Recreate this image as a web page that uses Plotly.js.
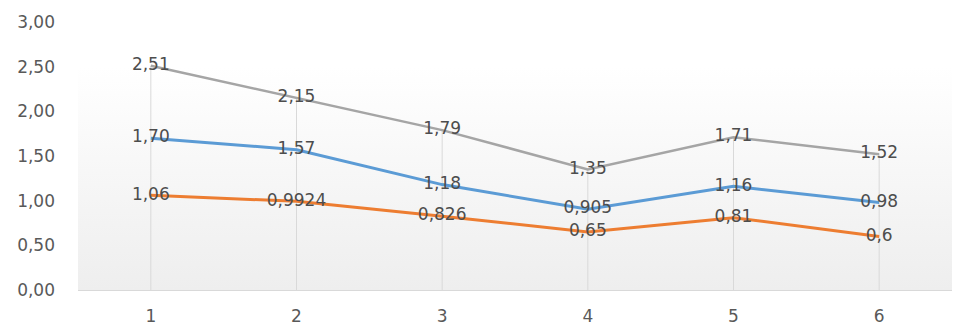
<!DOCTYPE html>
<html>
<head>
<meta charset="utf-8">
<script src="https://cdn.plot.ly/plotly-3.0.1.min.js"></script>
<style>
  html, body { margin: 0; padding: 0; background: #ffffff; }
  #chart { width: 956px; height: 326px; }
</style>
</head>
<body>
<div id="chart"></div>
<script>
// Category labels along the x axis
const categories = ['1', '2', '3', '4', '5', '6'];

// Series values, written as decimal strings so the labels keep their own precision
const blueValues   = ['1.70', '1.57', '1.18', '0.905', '1.16', '0.98'];
const orangeValues = ['1.06', '0.9924', '0.826', '0.65', '0.81', '0.6'];
const grayValues   = ['2.51', '2.15', '1.79', '1.35', '1.71', '1.52'];

// Y axis ticks
const yTickVals = [0, 0.5, 1, 1.5, 2, 2.5, 3];
const yTickText = ['0,00', '0,50', '1,00', '1,50', '2,00', '2,50', '3,00'];

const toNum = arr => arr.map(v => parseFloat(v));
const toLabel = arr => arr.map(v => v.replace('.', ','));

const FONT = '"DejaVu Sans", "Liberation Sans", sans-serif';

// Drop lines from the highest series down to the axis
const dropX = [], dropY = [];
categories.forEach((c, i) => {
  const top = Math.max(parseFloat(blueValues[i]), parseFloat(orangeValues[i]), parseFloat(grayValues[i]));
  dropX.push(c, c, null);
  dropY.push(top, 0, null);
});

function series(values, color, width) {
  return {
    type: 'scatter',
    mode: 'lines+text',
    x: categories,
    y: toNum(values),
    text: toLabel(values),
    textposition: 'middle center',
    textfont: { family: FONT, size: 17, color: '#4d4d4d' },
    line: { color: color, width: width },
    hoverinfo: 'skip',
    cliponaxis: false
  };
}

const traces = [
  {
    type: 'scatter', mode: 'lines', x: dropX, y: dropY,
    line: { color: '#d9d9d9', width: 1 }, hoverinfo: 'skip', connectgaps: false
  },
  series(blueValues, '#5b9bd5', 3),
  series(orangeValues, '#ed7d31', 3),
  series(grayValues, '#a5a5a5', 2.5)
];

// Plot-area fill: white at the top fading to light gray at the bottom
const gradientSvg =
  '<svg xmlns="http://www.w3.org/2000/svg" width="100" height="100" preserveAspectRatio="none">' +
  '<defs><linearGradient id="g" x1="0" y1="0" x2="0" y2="1">' +
  '<stop offset="0" stop-color="#ffffff"/><stop offset="1" stop-color="#eeeeee"/>' +
  '</linearGradient></defs><rect width="100" height="100" fill="url(#g)"/></svg>';

const layout = {
  width: 956,
  height: 326,
  margin: { l: 78, r: 4, t: 22, b: 36 },
  paper_bgcolor: '#ffffff',
  plot_bgcolor: 'rgba(0,0,0,0)',
  showlegend: false,
  font: { family: FONT, size: 17, color: '#595959' },
  images: [{
    source: 'data:image/svg+xml;charset=utf-8,' + encodeURIComponent(gradientSvg),
    xref: 'paper', yref: 'y',
    x: 0, y: 2.5, sizex: 1, sizey: 2.5,
    xanchor: 'left', yanchor: 'top',
    sizing: 'stretch', layer: 'below'
  }],
  xaxis: {
    type: 'category',
    range: [-0.5, 5.5],
    showgrid: false,
    zeroline: false,
    showline: true,
    linecolor: '#d9d9d9',
    linewidth: 1,
    ticks: '',
    ticklabelstandoff: 11,
    tickfont: { family: FONT, size: 17, color: '#595959' },
    fixedrange: true
  },
  yaxis: {
    range: [0, 3],
    tickvals: yTickVals,
    ticktext: yTickText,
    showgrid: false,
    zeroline: false,
    showline: false,
    ticks: '',
    ticklabelstandoff: 22,
    tickfont: { family: FONT, size: 17, color: '#595959' },
    fixedrange: true
  }
};

Plotly.newPlot('chart', traces, layout, { displayModeBar: false, staticPlot: true });
</script>
</body>
</html>
